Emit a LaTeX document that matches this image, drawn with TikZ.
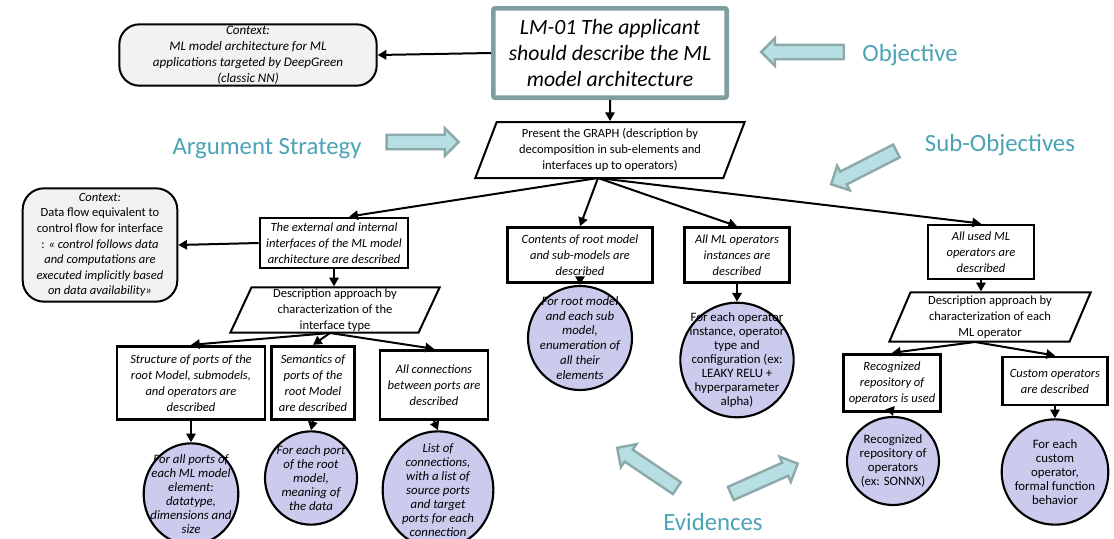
\documentclass[tikz,border=0pt]{standalone}
\usepackage{fontspec}
\setmainfont{Carlito}
\usetikzlibrary{arrows.meta,shapes.geometric,shapes.arrows}
\definecolor{lblcol}{HTML}{4BA3B5}
\definecolor{bafill}{HTML}{B7DFE3}
\definecolor{badraw}{HTML}{8CA8A9}
\definecolor{goalborder}{HTML}{819E9E}
\definecolor{ctxfill}{HTML}{F2F2F2}
\definecolor{evfill}{HTML}{CBCBEE}
\newcommand\dgsmall{\fontsize{9.4}{12}\selectfont}
\newcommand\dgev{\fontsize{9.6}{10.5}\selectfont}
\tikzset{
  goalbox/.style={draw, line width=2.2pt, fill=white, align=center, font=\dgsmall\itshape, inner sep=1pt},
  topgoal/.style={draw=goalborder, line width=3.5pt, rounded corners=1.5pt, fill=white, align=center, font=\fontsize{16.3}{19.5}\selectfont\itshape, inner sep=1pt},
  ctxbox/.style={draw, line width=1.5pt, fill=ctxfill, rounded corners=15pt, align=center, font=\dgsmall, inner sep=1pt},
  stratbox/.style={draw, line width=1.5pt, fill=white, trapezium, trapezium left angle=65, trapezium right angle=115, trapezium stretches body, align=center, font=\dgsmall, inner sep=1pt},
  evid/.style={draw, line width=1.6pt, fill=evfill, ellipse, inner sep=0pt},
  evtext/.style={align=center, font=\dgev\itshape, inner sep=0pt},
  evtextup/.style={align=center, font=\dgev, inner sep=0pt},
  conn/.style={line width=1.5pt, -{Triangle[length=6.5pt,width=7pt]}},
  lbl/.style={text=lblcol, font=\fontsize{18.6}{22}\selectfont},
  barrow/.style={single arrow, draw=badraw, fill=bafill, line width=1.8pt, single arrow head extend=5pt, inner sep=4.5pt, single arrow tip angle=90}
}
\begin{document}
\begin{tikzpicture}[x=0.75pt,y=-0.75pt]
\useasboundingbox (0,0) rectangle (1114,539);

% top goal and context
\node[topgoal, minimum width=175pt, minimum height=67pt] (G) at (610,53) {LM-01 The applicant\\ should describe the ML\\ model architecture};
\node[ctxbox, minimum width=193pt, minimum height=46pt, font=\fontsize{9.8}{12}\selectfont\itshape] (C1) at (248,55) {Context:\\ ML model architecture for ML\\ applications targeted by DeepGreen\\ (classic NN)};

% main strategy
\node[stratbox, minimum width=202pt, minimum height=42pt] (S1) at (610,150) {Present the GRAPH (description by\\ decomposition in sub-elements and\\ interfaces up to operators)};

% context 2
\node[ctxbox, minimum width=116pt, minimum height=85pt, rounded corners=16pt, font=\fontsize{9.4}{11.7}\selectfont] (C2) at (100,245) {\textit{Context:}\\ Data flow equivalent to\\ control flow for interface\\ : \textit{« control follows data}\\ \textit{and computations are}\\ \textit{executed implicitly based}\\ \textit{on data availability»}};

% sub goals
\node[goalbox, minimum width=111pt, minimum height=37.5pt] (G1) at (334,243) {The external and internal\\ interfaces of the ML model\\ architecture are described};
\node[goalbox, minimum width=109pt, minimum height=41pt] (G2) at (580,255) {Contents of root model\\ and sub-models are\\ described};
\node[goalbox, minimum width=79pt, minimum height=41pt] (G3) at (737,255) {All ML operators\\ instances are\\ described};
\node[goalbox, minimum width=79.5pt, minimum height=40.5pt] (G4) at (981,252) {All used ML\\ operators are\\ described};

% sub strategies
\node[stratbox, minimum width=157pt, minimum height=34pt] (S2) at (335,310) {Description approach by\\ characterization of the\\ interface type};
\node[stratbox, minimum width=151pt, minimum height=37pt] (S3) at (990,317) {Description approach by\\ characterization of each\\ ML operator};

% leaf goals
\node[goalbox, minimum width=111pt, minimum height=55pt] (G1a) at (191,383) {Structure of ports of the\\ root Model, submodels,\\ and operators are\\ described};
\node[goalbox, minimum width=62pt, minimum height=55pt] (G1b) at (313,383) {Semantics of\\ ports of the\\ root Model\\ are described};
\node[goalbox, minimum width=81pt, minimum height=52pt] (G1c) at (434,385) {All connections\\ between ports are\\ described};
\node[goalbox, minimum width=73pt, minimum height=43pt] (G4a) at (892,383) {Recognized\\ repository of\\ operators is used};
\node[goalbox, minimum width=79pt, minimum height=36pt] (G4b) at (1055,381) {Custom operators\\ are described};

% evidences
\node[evid, minimum width=71pt, minimum height=76pt, label={[evtext]center:{For all ports of\\ each ML model\\ element:\\ datatype,\\ dimensions and\\ size}}] (E1a) at (191,494) {};
\node[evid, minimum width=69pt, minimum height=70pt, label={[evtext]center:{For each port\\ of the root\\ model,\\ meaning of\\ the data}}] (E1b) at (311,478) {};
\node[evid, minimum width=83pt, minimum height=88pt, label={[evtext]center:{List of\\ connections,\\ with a list of\\ source ports\\ and target\\ ports for each\\ connection}}] (E1c) at (438,490) {};
\node[evid, minimum width=78pt, minimum height=78pt, label={[evtext, font=\fontsize{9.6}{11.2}\selectfont\itshape]center:{For root model\\ and each sub\\ model,\\ enumeration of\\ all their\\ elements}}] (E2) at (580,338) {};
\node[evid, minimum width=85pt, minimum height=86pt, label={[evtextup]center:{For each operator\\ instance, operator\\ type and\\ configuration (ex:\\ LEAKY RELU +\\ hyperparameter\\ alpha)}}] (E3) at (737,360) {};
\node[evid, minimum width=69pt, minimum height=66pt, label={[evtextup]center:{Recognized\\ repository of\\ operators\\ (ex: SONNX)}}] (E4a) at (893,461) {};
\node[evid, minimum width=80pt, minimum height=79pt, label={[evtextup]center:{For each\\ custom\\ operator,\\ formal function\\ behavior}}] (E4b) at (1055,472) {};

% connectors
\coordinate (S1b) at (598,178);
\coordinate (S2b) at (330,333);
\coordinate (S3b) at (975,342);
\draw[conn] (G.west) -- (C1.east);
\draw[conn] (G.south) -- (S1.north);
\draw[conn] (S1b) -- (G1.60);
\draw[conn] (S1b) -- (G2.north);
\draw[conn] (S1b) -- (G3.north);
\draw[conn] (S1b) -- (G4.north);
\draw[conn] (G1.west) -- (C2.east);
\draw[conn] (G1.south) -- (S2.north -| G1.south);
\draw[conn] (S2b) -- (G1a.north);
\draw[conn] (S2b) -- (G1b.north);
\draw[conn] (S2b) -- (G1c.north);
\draw[conn] (G4.south) -- (S3.north -| G4.south);
\draw[conn] (S3b) -- (G4a.north);
\draw[conn] (S3b) -- (G4b.north);
\draw[conn] (G1a.south) -- (E1a.north);
\draw[conn] (G1b.south) -- (E1b.north);
\draw[conn] (G1c.south) -- (E1c.north);
\draw[conn] (G2.south) -- (E2.north);
\draw[conn] (G3.south) -- (E3.north);
\draw[conn] (G4a.south) -- (E4a.north);
\draw[conn] (G4b.south) -- (E4b.north);

% labels and block arrows
\node[lbl] (Lobj) at (910,55) {Objective};
\node[lbl] (Las) at (267,149) {Argument Strategy};
\node[lbl] (Lso) at (1000,145) {Sub-Objectives};
\node[lbl] (Lev) at (713,522) {Evidences};
\node[barrow, minimum height=62pt, rotate=180] (Aobj) at (806,52) {};
\node[barrow, minimum height=54pt] (Aas) at (419,142) {};
\node[barrow, minimum height=55pt, rotate=207] (Aso) at (867,166) {};
\node[barrow, minimum height=54pt, rotate=146] (Aev1) at (650,470) {};
\node[barrow, minimum height=55pt, rotate=24] (Aev2) at (761,480) {};
\end{tikzpicture}
\end{document}
